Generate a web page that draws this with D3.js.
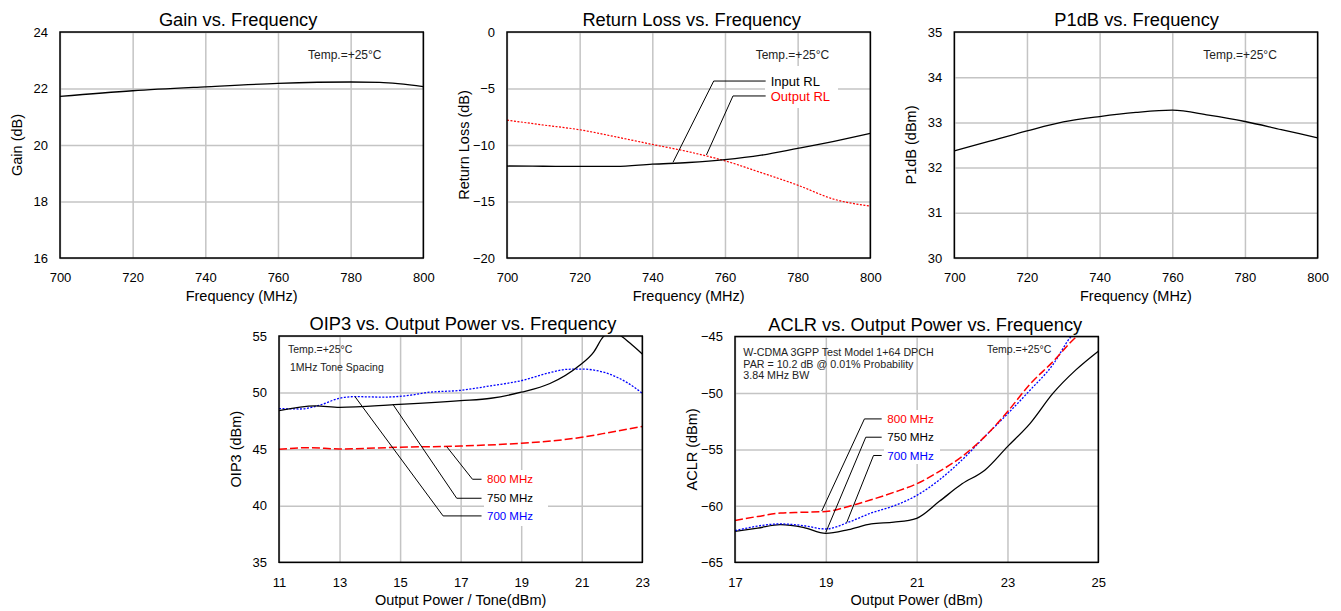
<!DOCTYPE html>
<html>
<head>
<meta charset="utf-8">
<script src="https://cdn.jsdelivr.net/npm/d3@7"></script>
<style>
  body { margin: 0; background: #fff; }
  svg { display: block; font-family: "Liberation Sans", Arial, sans-serif; }
</style>
</head>
<body>
<svg id="chart" width="1341" height="611"></svg>
<script>
// ---- data ----
const freqTicks = [700, 720, 740, 760, 780, 800];
const gainTicks = [16, 18, 20, 22, 24];
const rlTicks = [-20, -15, -10, -5, 0];
const p1dbTicks = [30, 31, 32, 33, 34, 35];
const oip3PowerTicks = [11, 13, 15, 17, 19, 21, 23];
const oip3Ticks = [35, 40, 45, 50, 55];
const aclrPowerTicks = [17, 19, 21, 23, 25];
const aclrTicks = [-65, -60, -55, -50, -45];

const gainFreq = [700, 720, 740, 760, 780, 788, 800];
const gainValues = [21.72, 21.92, 22.06, 22.18, 22.23, 22.22, 22.07];

const rlFreq = [700, 710, 720, 730, 740, 750, 760, 770, 780, 790, 800];
const inputRL = [-11.86, -11.88, -11.9, -11.9, -11.7, -11.55, -11.3, -10.9, -10.3, -9.67, -8.97];
const outputRL = [-7.8, -8.23, -8.65, -9.28, -9.95, -10.6, -11.4, -12.45, -13.55, -14.8, -15.4];

const p1dbFreq = [700, 710, 720, 730, 740, 750, 760, 770, 780, 790, 800];
const p1dbValues = [32.37, 32.59, 32.81, 33.01, 33.13, 33.22, 33.27, 33.16, 33.02, 32.84, 32.66];

const oip3Power750 = [11, 12.2, 13, 14.8, 17, 18, 19, 19.95, 20.9, 21.4, 21.7, 22.0, 22.3, 22.6, 23];
const oip3At750 = [48.4, 48.82, 48.7, 48.93, 49.29, 49.5, 50.03, 50.8, 52.35, 53.6, 54.9, 55.4, 55.0, 54.35, 53.4];
const oip3Power700 = [11, 11.7, 12.36, 13, 13.5, 14.44, 15.43, 15.87, 17, 18, 19, 20, 20.5, 21, 21.5, 22, 22.5, 23];
const oip3At700 = [48.58, 48.55, 48.9, 49.5, 49.64, 49.6, 49.8, 50.0, 50.2, 50.6, 51.05, 51.8, 52.05, 52.08, 51.94, 51.55, 50.88, 49.94];
const oip3Power800 = [11, 12, 13, 15, 17, 19, 20, 21, 22, 23];
const oip3At800 = [44.99, 45.13, 45.02, 45.17, 45.28, 45.52, 45.72, 46.05, 46.52, 47.0];

const aclrPower750 = [17, 17.5, 18, 18.5, 19, 19.5, 20, 20.5, 21, 21.5, 22, 22.5, 23, 23.5, 24, 24.5, 25];
const aclrAt750 = [-62.26, -61.97, -61.67, -61.9, -62.43, -62.1, -61.6, -61.45, -61.1, -59.6, -58.05, -56.84, -54.75, -52.69, -50.04, -47.98, -46.3];
const aclrPower700 = [17, 18, 18.5, 19, 19.5, 20, 20.5, 21, 21.5, 22, 22.5, 23, 23.5, 24, 24.4, 24.6];
const aclrAt700 = [-62.2, -61.6, -61.75, -62.05, -61.45, -60.63, -60.0, -59.08, -57.7, -55.93, -53.87, -51.86, -49.74, -47.5, -45.0, -44.2];
const aclrPower800 = [17, 17.5, 18, 18.5, 19, 19.5, 20, 20.5, 21, 21.5, 22, 22.5, 23, 23.5, 24, 24.5, 24.7];
const aclrAt800 = [-61.29, -60.94, -60.64, -60.57, -60.5, -60.05, -59.46, -58.8, -58.05, -56.95, -55.63, -53.87, -51.66, -49.2, -47.24, -45.08, -44.4];

const BLACK = "#000", RED = "#ff0000", BLUE = "#0000ff";
const solid = null, dotted = "2,1.5", dashed = "8,3";

const svg = d3.select("#chart");
const defs = svg.append("defs");

const panels = [
  {
    id: "gain", left: 60, top: 32, width: 363.3, height: 226,
    xDomain: [700, 800], yDomain: [16, 24], xTicks: freqTicks, yTicks: gainTicks,
    title: "Gain vs. Frequency", titleDx: -3.5, xLabel: "Frequency (MHz)", yLabel: "Gain (dB)",
    series: [{ x: gainFreq, y: gainValues, color: BLACK, dash: solid }],
    notes: [{ text: "Temp.=+25°C", dx: 248, dy: 27, size: 12 }]
  },
  {
    id: "rl", left: 507, top: 32, width: 363.3, height: 226,
    xDomain: [700, 800], yDomain: [-20, 0], xTicks: freqTicks, yTicks: rlTicks,
    title: "Return Loss vs. Frequency", titleDx: 3, xLabel: "Frequency (MHz)", yLabel: "Return Loss (dB)",
    series: [
      { x: rlFreq, y: outputRL, color: RED, dash: dotted, width: 1.2 },
      { x: rlFreq, y: inputRL, color: BLACK, dash: solid }
    ],
    notes: [{ text: "Temp.=+25°C", dx: 248.7, dy: 27, size: 12 }],
    box: { x: 765, y: 66, w: 73, h: 42 },
    callouts: [
      { text: "Input RL", color: BLACK, size: 13, pts: [[745.7, -11.53], [756.9, -4.34]], endX: 771.2, textX: 772.6 },
      { text: "Output RL", color: RED, size: 13, pts: [[754.9, -10.88], [762.2, -5.66]], endX: 771.2, textX: 772.6 }
    ]
  },
  {
    id: "p1db", left: 954.3, top: 32, width: 363.3, height: 226,
    xDomain: [700, 800], yDomain: [30, 35], xTicks: freqTicks, yTicks: p1dbTicks,
    title: "P1dB vs. Frequency", titleDx: 0.7, xLabel: "Frequency (MHz)", yLabel: "P1dB (dBm)",
    series: [{ x: p1dbFreq, y: p1dbValues, color: BLACK, dash: solid }],
    notes: [{ text: "Temp.=+25°C", dx: 249, dy: 27, size: 12 }]
  },
  {
    id: "oip3", left: 279, top: 336, width: 363.3, height: 226.3,
    xDomain: [11, 23], yDomain: [35, 55], xTicks: oip3PowerTicks, yTicks: oip3Ticks,
    title: "OIP3 vs. Output Power vs. Frequency", titleDx: 2.3, xLabel: "Output Power / Tone(dBm)", yLabel: "OIP3 (dBm)",
    series: [
      { x: oip3Power800, y: oip3At800, color: RED, dash: dashed, width: 1.5 },
      { x: oip3Power700, y: oip3At700, color: BLUE, dash: dotted, width: 1.3 },
      { x: oip3Power750, y: oip3At750, color: BLACK, dash: solid }
    ],
    notes: [
      { text: "Temp.=+25°C", dx: 9, dy: 17, size: 10.5 },
      { text: "1MHz Tone Spacing", dx: 11, dy: 34.5, size: 10.5 }
    ],
    box: { x: 484, y: 470, w: 64, h: 56 },
    callouts: [
      { text: "800 MHz", color: RED, size: 11.5, pts: [[16.54, 45.22], [17.39, 42.34]], endX: 17.69, textX: 17.87 },
      { text: "750 MHz", color: BLACK, size: 11.5, pts: [[14.77, 48.93], [16.87, 40.66]], endX: 17.69, textX: 17.87 },
      { text: "700 MHz", color: BLUE, size: 11.5, pts: [[13.51, 49.64], [16.42, 39.1]], endX: 17.69, textX: 17.87 }
    ]
  },
  {
    id: "aclr", left: 735, top: 336.5, width: 363.3, height: 225.8,
    xDomain: [17, 25], yDomain: [-65, -45], xTicks: aclrPowerTicks, yTicks: aclrTicks,
    title: "ACLR vs. Output Power vs. Frequency", titleDx: 8.6, xLabel: "Output Power (dBm)", yLabel: "ACLR (dBm)",
    series: [
      { x: aclrPower750, y: aclrAt750, color: BLACK, dash: solid },
      { x: aclrPower700, y: aclrAt700, color: BLUE, dash: dotted, width: 1.3 },
      { x: aclrPower800, y: aclrAt800, color: RED, dash: dashed, width: 1.5 }
    ],
    notes: [
      { text: "W-CDMA 3GPP Test Model 1+64 DPCH", dx: 8.3, dy: 19.5, size: 10.7 },
      { text: "PAR = 10.2 dB @ 0.01% Probability", dx: 8.3, dy: 31.2, size: 10.7 },
      { text: "3.84 MHz BW", dx: 8.3, dy: 42.9, size: 10.7 },
      { text: "Temp.=+25°C", dx: 252, dy: 16.5, size: 10.5 }
    ],
    box: { x: 884, y: 410, w: 56, h: 54 },
    callouts: [
      { text: "800 MHz", color: RED, size: 11.7, pts: [[18.91, -60.46], [19.85, -52.3]], endX: 20.23, textX: 20.35 },
      { text: "750 MHz", color: BLACK, size: 11.7, pts: [[19.0, -62.35], [19.88, -53.92]], endX: 20.23, textX: 20.35 },
      { text: "700 MHz", color: BLUE, size: 11.7, pts: [[19.46, -61.48], [20.05, -55.54]], endX: 20.23, textX: 20.35 }
    ]
  }
];

panels.forEach(p => {
  const x = d3.scaleLinear().domain(p.xDomain).range([0, p.width]);
  const y = d3.scaleLinear().domain(p.yDomain).range([p.height, 0]);

  const g = svg.append("g").attr("transform", `translate(${p.left}, ${p.top})`);

  // gridlines
  g.append("g")
    .call(d3.axisBottom(x).tickValues(p.xTicks).tickSize(p.height).tickFormat(""))
    .call(a => a.select(".domain").remove())
    .selectAll("line").attr("stroke", "#c4c4c4").attr("stroke-width", 1.5);
  g.append("g")
    .call(d3.axisLeft(y).tickValues(p.yTicks).tickSize(-p.width).tickFormat(""))
    .call(a => a.select(".domain").remove())
    .selectAll("line").attr("stroke", "#c4c4c4").attr("stroke-width", 1.5);

  // white panel behind the callout labels
  if (p.box) {
    g.append("rect")
      .attr("x", p.box.x - p.left).attr("y", p.box.y - p.top)
      .attr("width", p.box.w).attr("height", p.box.h)
      .attr("fill", "#fff");
  }

  // data lines
  const clipId = `clip-${p.id}`;
  defs.append("clipPath").attr("id", clipId)
    .append("rect").attr("width", p.width).attr("height", p.height);

  const line = d3.line()
    .curve(d3.curveMonotoneX)
    .x(d => x(d[0]))
    .y(d => y(d[1]));

  p.series.forEach(s => {
    g.append("path")
      .datum(s.x.map((v, i) => [v, s.y[i]]))
      .attr("clip-path", `url(#${clipId})`)
      .attr("d", line)
      .attr("fill", "none")
      .attr("stroke", s.color)
      .attr("stroke-width", s.width || 1.3)
      .attr("stroke-dasharray", s.dash);
  });

  // callouts
  (p.callouts || []).forEach(c => {
    const pts = c.pts.map(d => [x(d[0]), y(d[1])]);
    pts.push([x(c.endX), pts[1][1]]);
    g.append("path")
      .attr("d", d3.line()(pts))
      .attr("fill", "none")
      .attr("stroke", "#000")
      .attr("stroke-width", 1);
    g.append("text")
      .attr("x", x(c.textX))
      .attr("y", pts[1][1])
      .attr("dy", "0.35em")
      .attr("font-size", c.size)
      .attr("fill", c.color)
      .text(c.text);
  });

  // notes
  p.notes.forEach(n => {
    g.append("text")
      .attr("x", n.dx).attr("y", n.dy)
      .attr("font-size", n.size)
      .attr("fill", "#222")
      .text(n.text);
  });

  // frame
  g.append("rect")
    .attr("width", p.width).attr("height", p.height)
    .attr("fill", "none").attr("stroke", "#000").attr("stroke-width", 1.5);

  // tick labels
  g.append("g")
    .attr("transform", `translate(0, ${p.height})`)
    .call(d3.axisBottom(x).tickValues(p.xTicks).tickSize(0).tickPadding(15).tickFormat(d3.format("d")))
    .call(a => a.select(".domain").remove())
    .selectAll("text").attr("font-size", 13).attr("font-family", "inherit").attr("fill", "#000");
  g.append("g")
    .call(d3.axisLeft(y).tickValues(p.yTicks).tickSize(0).tickPadding(12).tickFormat(d3.format("d")))
    .call(a => a.select(".domain").remove())
    .selectAll("text").attr("font-size", 13).attr("font-family", "inherit").attr("fill", "#000");

  // titles
  g.append("text")
    .attr("x", p.width / 2 + p.titleDx).attr("y", -6)
    .attr("text-anchor", "middle")
    .attr("font-size", 18.3)
    .text(p.title);
  g.append("text")
    .attr("x", p.width / 2).attr("y", p.height + 43)
    .attr("text-anchor", "middle")
    .attr("font-size", 14.5)
    .text(p.xLabel);
  g.append("text")
    .attr("transform", `translate(-43.5, ${p.height / 2}) rotate(-90)`)
    .attr("dy", "0.35em")
    .attr("text-anchor", "middle")
    .attr("font-size", 14.5)
    .text(p.yLabel);
});
</script>
</body>
</html>
